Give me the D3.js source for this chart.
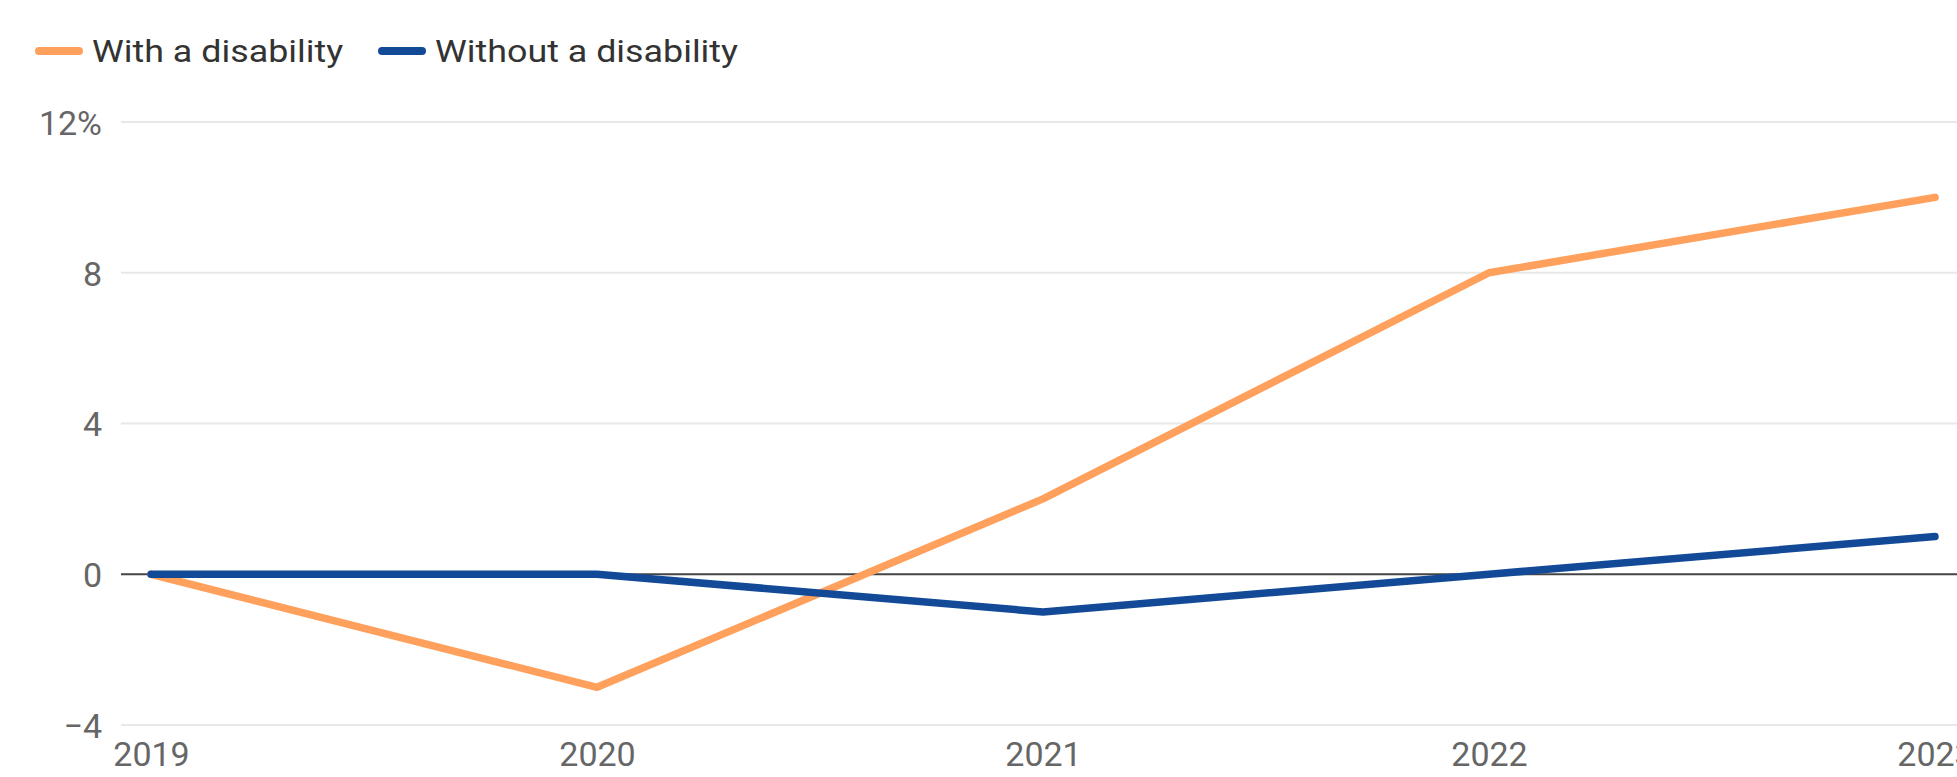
<!DOCTYPE html>
<html>
<head>
<meta charset="utf-8">
<script src="https://cdn.jsdelivr.net/npm/d3@7"></script>
<style>
  html, body { margin: 0; padding: 0; background: #fff; }
  svg { display: block; font-family: Roboto, "Noto Sans", sans-serif; }
</style>
</head>
<body>
<svg id="chart" width="1957" height="777"></svg>
<script>
// chart values
const years = [2019, 2020, 2021, 2022, 2023]
const withDisability = [0, -3, 2, 8, 10]
const withoutDisability = [0, 0, -1, 0, 1]
const yTicks = [-4, 0, 4, 8, 12]
const seriesNames = ['With a disability', 'Without a disability']
const seriesColors = ['#ffa05c', '#134a98']

const width = 1957
const height = 777
const margin = { top: 122, right: 22, bottom: 52, left: 151 }

const svg = d3.select('#chart')

const xScale = d3.scaleLinear()
  .domain([2019, 2023])
  .range([margin.left, width - margin.right])

const yScale = d3.scaleLinear()
  .domain([-4, 12])
  .range([height - margin.bottom, margin.top])

/**
 * Horizontal grid lines, the zero line is drawn darker
 */
function drawGrid () {
  const grid = svg.append('g').attr('class', 'grid')
  grid.selectAll('line')
    .data(yTicks)
    .enter()
    .append('line')
    .attr('x1', 121)
    .attr('x2', width)
    .attr('y1', d => yScale(d))
    .attr('y2', d => yScale(d))
    .attr('stroke', d => d === 0 ? '#444' : '#e8e8e8')
    .attr('stroke-width', 2)
}

/**
 * Y labels on the left, the top one carries the % sign
 */
function drawYAxis () {
  const axis = d3.axisLeft(yScale)
    .tickValues(yTicks)
    .tickSize(0)
    .tickPadding(0)
    .tickFormat(d => d === 12 ? '12%' : (d < 0 ? '\u2212' + Math.abs(d) : d))

  const g = svg.append('g')
    .attr('transform', 'translate(102,0)')
    .call(axis)
  g.select('.domain').remove()
  g.selectAll('text')
    .attr('fill', '#666')
    .attr('font-size', 34)
    .attr('font-family', 'Roboto, sans-serif')
    .attr('dy', '0.36em')
}

/**
 * Year labels along the bottom
 */
function drawXAxis () {
  const axis = d3.axisBottom(xScale)
    .tickValues(years)
    .tickSize(0)
    .tickPadding(0)
    .tickFormat(d3.format('d'))

  const g = svg.append('g')
    .attr('transform', 'translate(0,' + (yScale(-4) + 10) + ')')
    .call(axis)
  g.select('.domain').remove()
  g.selectAll('text')
    .attr('fill', '#666')
    .attr('font-size', 34)
    .attr('font-family', 'Roboto, sans-serif')
    .attr('dy', '0.9em')
}

/**
 * Draws the two series as lines
 */
function drawLines () {
  const line = d3.line()
    .x((d, i) => xScale(years[i]))
    .y(d => yScale(d))

  svg.append('g')
    .selectAll('path')
    .data([withDisability, withoutDisability])
    .enter()
    .append('path')
    .attr('d', d => line(d))
    .attr('fill', 'none')
    .attr('stroke', (d, i) => seriesColors[i])
    .attr('stroke-width', 7.5)
    .attr('stroke-linecap', 'round')
    .attr('stroke-linejoin', 'round')
}

/**
 * Legend at the top left
 */
function drawLegend () {
  const legend = svg.append('g').attr('class', 'legend')
  const starts = [35, 378]

  const item = legend.selectAll('g')
    .data(seriesNames)
    .enter()
    .append('g')
    .attr('transform', (d, i) => 'translate(' + starts[i] + ',51)')

  item.append('line')
    .attr('x1', 4)
    .attr('x2', 44)
    .attr('stroke', (d, i) => seriesColors[i])
    .attr('stroke-width', 8)
    .attr('stroke-linecap', 'round')

  item.append('text')
    .attr('transform', 'translate(57,0) scale(1.12,1)')
    .attr('dy', '0.35em')
    .attr('font-size', 32)
    .attr('fill', '#333')
    .text(d => d)
}

drawGrid()
drawLines()
drawYAxis()
drawXAxis()
drawLegend()
</script>
</body>
</html>
